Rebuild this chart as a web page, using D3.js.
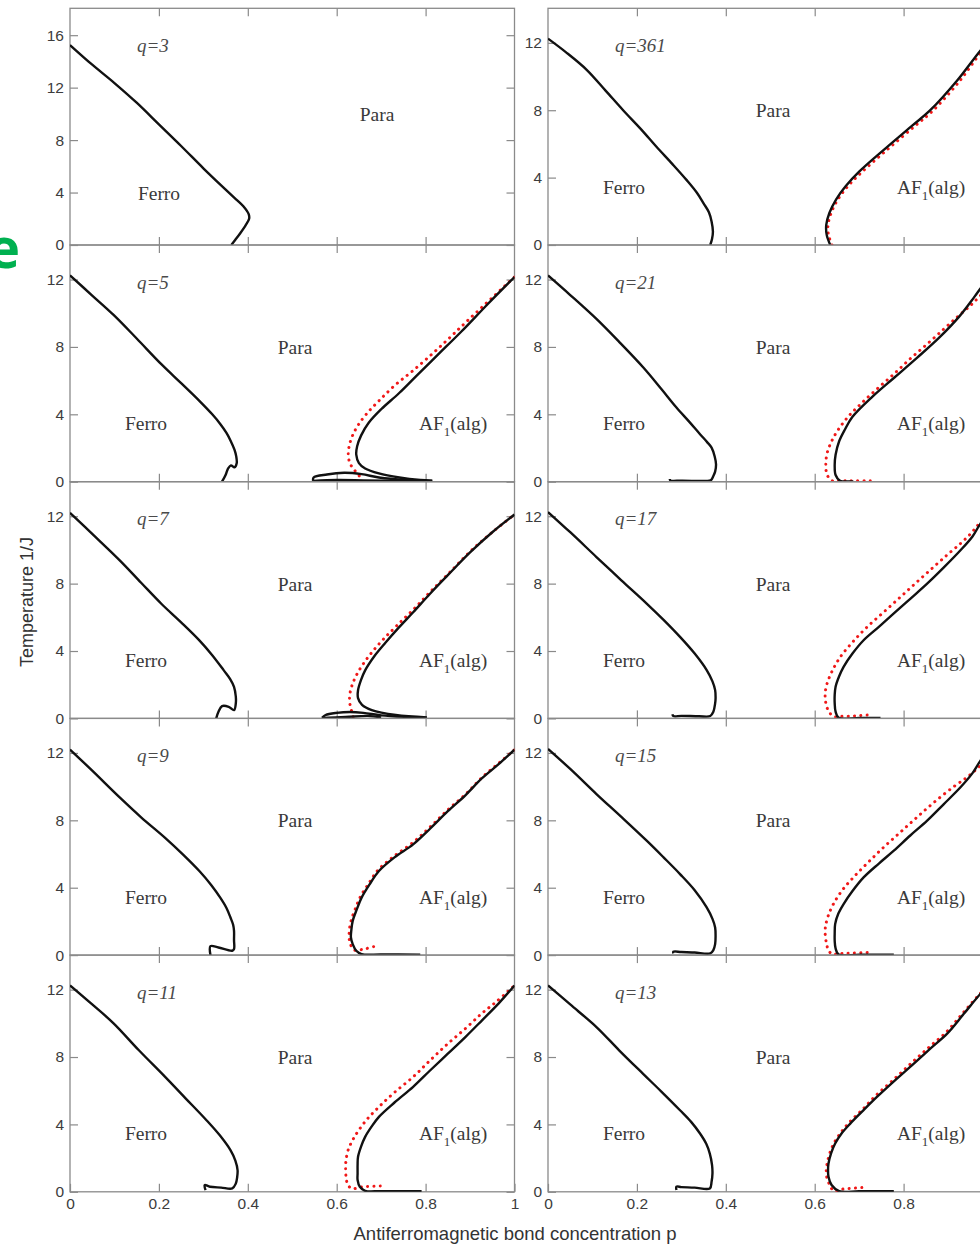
<!DOCTYPE html>
<html>
<head>
<meta charset="utf-8">
<script src="https://cdn.jsdelivr.net/npm/d3@7"></script>
<style>
  body { margin: 0; background: #fff; }
  svg { display: block; }
</style>
</head>
<body>
<svg id="chart" width="980" height="1246"></svg>
<script>
// ---- axis settings ----
const pTicks = [0, 0.2, 0.4, 0.6, 0.8, 1];
const pTickLabels = ["0", "0.2", "0.4", "0.6", "0.8", "1"];
const tTicks = [0, 4, 8, 12];
const tTicksQ3 = [0, 4, 8, 12, 16];
const tMax = 14.05;
const tMaxQ3 = 18.05;
const qLabels = ["q=3", "q=361", "q=5", "q=21", "q=7", "q=17", "q=9", "q=15", "q=11", "q=13"];

// ---- phase boundaries, points are [p, T] ----
// q = 3
const ferro_q3 = [[0,15.25],[0.05,13.75],[0.1,12.35],[0.15,10.85],[0.2,9.2],[0.25,7.55],[0.3,5.85],[0.34,4.55],[0.37,3.6],[0.39,2.95],[0.402,2.35],[0.403,2.0],[0.395,1.5],[0.383,0.9],[0.372,0.4],[0.363,0]];

// q = 361
const ferro_q361 = [[0,12.25],[0.04,11.45],[0.087,10.4],[0.13,9.15],[0.169,8.0],[0.21,6.85],[0.244,5.83],[0.28,4.8],[0.312,3.85],[0.335,3.1],[0.35,2.47],[0.362,1.95],[0.368,1.4],[0.371,0.8],[0.369,0.35],[0.365,0]];
const af_q361 = [[0.635,0],[0.627,0.6],[0.626,1.2],[0.633,1.9],[0.648,2.7],[0.67,3.5],[0.7,4.35],[0.76,5.75],[0.82,7.1],[0.86,8.0],[0.92,9.75],[0.973,11.55],[1,12.35]];
const alg_q361 = [[0.639,0],[0.631,0.6],[0.63,1.2],[0.637,1.9],[0.652,2.7],[0.675,3.5],[0.705,4.3],[0.765,5.7],[0.825,7.05],[0.865,7.95],[0.925,9.7],[0.976,11.5],[1,12.2]];

// q = 5
const ferro_q5 = [[0,12.25],[0.05,11.05],[0.098,9.9],[0.15,8.5],[0.206,6.96],[0.25,5.85],[0.291,4.8],[0.32,4.0],[0.338,3.43],[0.352,2.9],[0.361,2.45],[0.37,1.9],[0.374,1.5],[0.375,1.1],[0.37,0.85],[0.362,0.97],[0.355,0.75],[0.35,0.4],[0.342,0]];
const af_q5 = [[0.815,0.06],[0.788,0.1],[0.741,0.25],[0.695,0.49],[0.664,0.78],[0.65,1.1],[0.644,1.6],[0.646,2.1],[0.655,2.75],[0.672,3.5],[0.7,4.3],[0.74,5.25],[0.78,6.3],[0.83,7.6],[0.88,8.9],[0.94,10.55],[1,12.15]];
const alg_q5 = [[0.655,0],[0.652,0.29],[0.64,0.69],[0.63,1.08],[0.626,1.6],[0.628,2.1],[0.635,2.7],[0.648,3.35],[0.668,4.05],[0.695,4.8],[0.73,5.7],[0.772,6.6],[0.83,7.95],[0.9,9.7],[1,12.15]];
const lowA_q5 = [[0.547,0.05],[0.548,0.25],[0.578,0.43],[0.617,0.53],[0.656,0.45],[0.695,0.25],[0.757,0.1],[0.815,0.05]];
const lowB_q5 = [[0.547,0.05],[0.6,0.1],[0.66,0.08],[0.73,0.05],[0.8,0.03]];

// q = 21
const ferro_q21 = [[0,12.24],[0.05,11.08],[0.109,9.66],[0.16,8.3],[0.214,6.79],[0.255,5.5],[0.289,4.4],[0.318,3.55],[0.342,2.82],[0.358,2.35],[0.368,2.02],[0.375,1.5],[0.378,1.03],[0.376,0.6],[0.372,0.34],[0.366,0.08],[0.35,0.05],[0.3,0.06],[0.275,0.08],[0.274,0.16]];
const af_q21 = [[0.687,0.02],[0.665,0.02],[0.657,0.05],[0.647,0.4],[0.645,1.0],[0.647,1.6],[0.655,2.4],[0.668,3.1],[0.685,3.85],[0.73,5.05],[0.78,6.2],[0.83,7.35],[0.88,8.55],[0.925,9.8],[0.96,11.0],[0.985,11.9],[1,12.4]];
const alg_q21 = [[0.725,0.05],[0.68,0.05],[0.65,0.05],[0.639,0.06],[0.628,0.4],[0.625,1.0],[0.628,1.7],[0.638,2.4],[0.652,3.05],[0.675,3.85],[0.703,4.6],[0.74,5.5],[0.778,6.39],[0.815,7.3],[0.853,8.17],[0.89,9.05],[0.92,9.76],[0.95,10.45],[0.973,11.05],[1,11.8]];

// q = 7
const ferro_q7 = [[0,12.2],[0.05,10.95],[0.113,9.35],[0.16,8.05],[0.206,6.79],[0.25,5.7],[0.291,4.63],[0.32,3.75],[0.346,2.85],[0.36,2.35],[0.369,1.87],[0.373,1.3],[0.373,0.89],[0.369,0.49],[0.357,0.69],[0.342,0.73],[0.334,0.39],[0.329,0]];
const af_q7 = [[0.803,0.06],[0.733,0.2],[0.679,0.49],[0.657,0.8],[0.648,1.2],[0.648,1.67],[0.655,2.3],[0.664,2.85],[0.685,3.7],[0.71,4.5],[0.74,5.4],[0.772,6.3],[0.81,7.4],[0.85,8.5],[0.9,9.85],[0.95,11.05],[1,12.1]];
const alg_q7 = [[0.637,0.1],[0.633,0.49],[0.629,1.0],[0.63,1.5],[0.635,2.0],[0.645,2.6],[0.66,3.25],[0.68,3.95],[0.705,4.7],[0.735,5.5],[0.772,6.45],[0.81,7.5],[0.85,8.55],[0.9,9.9],[0.95,11.05],[1,12.1]];
const lowA_q7 = [[0.567,0.03],[0.575,0.2],[0.6,0.33],[0.63,0.38],[0.66,0.33],[0.7,0.18],[0.76,0.08],[0.8,0.04]];
const lowB_q7 = [[0.567,0.03],[0.62,0.08],[0.67,0.15],[0.7,0.06]];

// q = 17
const ferro_q17 = [[0,12.25],[0.05,11.05],[0.109,9.58],[0.165,8.2],[0.222,6.82],[0.26,5.85],[0.297,4.84],[0.33,3.85],[0.357,2.87],[0.37,2.2],[0.376,1.68],[0.377,1.2],[0.376,0.89],[0.372,0.4],[0.365,0.14],[0.34,0.13],[0.3,0.15],[0.282,0.14],[0.28,0.25]];
const af_q17 = [[0.748,0.03],[0.7,0.03],[0.654,0.03],[0.647,0.4],[0.645,0.89],[0.645,1.4],[0.647,1.88],[0.655,2.5],[0.665,3.06],[0.685,3.85],[0.71,4.64],[0.745,5.45],[0.778,6.23],[0.815,7.1],[0.853,8.0],[0.89,8.95],[0.928,9.98],[0.955,10.8],[0.973,11.56],[1,12.4]];
const alg_q17 = [[0.718,0.2],[0.69,0.15],[0.66,0.12],[0.643,0.1],[0.63,0.5],[0.624,1.09],[0.624,1.6],[0.628,2.08],[0.64,2.85],[0.658,3.66],[0.686,4.55],[0.718,5.43],[0.755,6.3],[0.793,7.21],[0.83,8.1],[0.868,9.0],[0.9,9.75],[0.928,10.38],[0.952,11.0],[0.973,11.66],[1,12.4]];

// q = 9
const ferro_q9 = [[0,12.2],[0.05,10.95],[0.113,9.33],[0.16,8.18],[0.214,6.96],[0.255,5.95],[0.291,4.99],[0.318,4.15],[0.338,3.41],[0.352,2.8],[0.361,2.23],[0.367,1.8],[0.369,1.44],[0.369,0.9],[0.369,0.36],[0.365,0.26],[0.334,0.45],[0.316,0.53],[0.316,0]];
const af_q9 = [[0.788,0.03],[0.7,0.04],[0.656,0.06],[0.644,0.26],[0.636,0.65],[0.632,1.05],[0.633,1.5],[0.636,2.03],[0.645,2.7],[0.656,3.41],[0.674,4.2],[0.695,4.99],[0.73,5.8],[0.772,6.57],[0.81,7.5],[0.85,8.54],[0.89,9.5],[0.927,10.5],[0.965,11.35],[1,12.19]];
const alg_q9 = [[0.683,0.5],[0.66,0.35],[0.64,0.3],[0.63,0.7],[0.628,1.1],[0.629,1.6],[0.633,2.1],[0.642,2.75],[0.653,3.45],[0.672,4.25],[0.693,5.05],[0.728,5.85],[0.77,6.65],[0.81,7.6],[0.85,8.62],[0.89,9.55],[0.927,10.55],[0.965,11.4],[1,12.19]];

// q = 15
const ferro_q15 = [[0,12.24],[0.05,11.05],[0.109,9.56],[0.165,8.2],[0.222,6.79],[0.26,5.8],[0.297,4.81],[0.33,3.85],[0.357,2.83],[0.37,2.15],[0.376,1.64],[0.377,1.1],[0.376,0.65],[0.372,0.3],[0.365,0.1],[0.33,0.15],[0.3,0.18],[0.282,0.2],[0.282,0.1]];
const af_q15 = [[0.778,0.03],[0.7,0.03],[0.654,0.03],[0.647,0.4],[0.645,0.85],[0.645,1.3],[0.646,1.84],[0.653,2.45],[0.665,3.03],[0.685,3.8],[0.71,4.61],[0.745,5.45],[0.778,6.2],[0.815,7.1],[0.853,7.98],[0.89,8.95],[0.928,9.96],[0.955,10.8],[0.973,11.54],[1,12.4]];
const alg_q15 = [[0.718,0.16],[0.685,0.12],[0.66,0.1],[0.639,0.06],[0.63,0.35],[0.627,0.65],[0.624,1.1],[0.624,1.64],[0.63,2.3],[0.642,3.03],[0.662,3.85],[0.687,4.61],[0.72,5.5],[0.755,6.4],[0.793,7.3],[0.83,8.18],[0.87,9.1],[0.913,10.0],[0.945,10.6],[0.973,11.25],[1,11.95]];

// q = 11
const ferro_q11 = [[0,12.25],[0.05,11.12],[0.098,10.0],[0.155,8.4],[0.214,6.82],[0.26,5.55],[0.307,4.25],[0.337,3.35],[0.361,2.47],[0.372,1.85],[0.377,1.28],[0.376,0.85],[0.373,0.49],[0.365,0.2],[0.34,0.25],[0.315,0.3],[0.303,0.4],[0.305,0.1]];
const af_q11 = [[0.791,0.03],[0.7,0.04],[0.664,0.06],[0.652,0.3],[0.647,0.7],[0.647,1.09],[0.647,1.6],[0.648,2.08],[0.655,2.7],[0.664,3.26],[0.678,3.85],[0.695,4.45],[0.73,5.3],[0.772,6.23],[0.81,7.2],[0.85,8.2],[0.89,9.2],[0.927,10.18],[0.965,11.2],[1,12.25]];
const alg_q11 = [[0.698,0.34],[0.66,0.3],[0.633,0.2],[0.624,0.5],[0.621,0.9],[0.62,1.4],[0.621,1.88],[0.626,2.5],[0.64,3.26],[0.665,4.2],[0.695,5.04],[0.73,5.9],[0.772,6.82],[0.81,7.8],[0.85,8.79],[0.89,9.7],[0.927,10.6],[0.96,11.3],[1,12.25]];

// q = 13
const ferro_q13 = [[0,12.25],[0.05,11.12],[0.109,9.78],[0.16,8.4],[0.214,7.0],[0.255,5.95],[0.297,4.84],[0.322,4.15],[0.342,3.46],[0.356,2.85],[0.364,2.27],[0.369,1.6],[0.37,1.09],[0.368,0.6],[0.364,0.2],[0.33,0.25],[0.3,0.28],[0.289,0.3],[0.289,0.1]];
const af_q13 = [[0.778,0.03],[0.7,0.03],[0.655,0.04],[0.638,0.4],[0.631,0.89],[0.63,1.3],[0.631,1.68],[0.637,2.3],[0.646,2.87],[0.66,3.45],[0.68,4.05],[0.71,4.85],[0.74,5.63],[0.78,6.6],[0.823,7.61],[0.86,8.5],[0.898,9.39],[0.935,10.55],[0.973,11.76],[1,12.5]];
const alg_q13 = [[0.706,0.25],[0.68,0.2],[0.66,0.15],[0.643,0.05],[0.633,0.45],[0.627,0.89],[0.626,1.3],[0.628,1.68],[0.634,2.3],[0.643,2.87],[0.657,3.45],[0.677,4.1],[0.708,4.9],[0.737,5.7],[0.777,6.65],[0.82,7.7],[0.858,8.6],[0.895,9.45],[0.933,10.6],[0.97,11.7],[1,12.5]];

// ---- panel table (row, column) ----
const panels = [
  { q: qLabels[0], row: 0, col: 0, top: tMaxQ3, ticks: tTicksQ3, ferro: ferro_q3, af: null, alg: null, low: [] },
  { q: qLabels[1], row: 0, col: 1, top: tMax, ticks: tTicks, ferro: ferro_q361, af: af_q361, alg: alg_q361, low: [] },
  { q: qLabels[2], row: 1, col: 0, top: tMax, ticks: tTicks, ferro: ferro_q5, af: af_q5, alg: alg_q5, low: [lowA_q5, lowB_q5] },
  { q: qLabels[3], row: 1, col: 1, top: tMax, ticks: tTicks, ferro: ferro_q21, af: af_q21, alg: alg_q21, low: [] },
  { q: qLabels[4], row: 2, col: 0, top: tMax, ticks: tTicks, ferro: ferro_q7, af: af_q7, alg: alg_q7, low: [lowA_q7, lowB_q7] },
  { q: qLabels[5], row: 2, col: 1, top: tMax, ticks: tTicks, ferro: ferro_q17, af: af_q17, alg: alg_q17, low: [] },
  { q: qLabels[6], row: 3, col: 0, top: tMax, ticks: tTicks, ferro: ferro_q9, af: af_q9, alg: alg_q9, low: [] },
  { q: qLabels[7], row: 3, col: 1, top: tMax, ticks: tTicks, ferro: ferro_q15, af: af_q15, alg: alg_q15, low: [] },
  { q: qLabels[8], row: 4, col: 0, top: tMax, ticks: tTicks, ferro: ferro_q11, af: af_q11, alg: alg_q11, low: [] },
  { q: qLabels[9], row: 4, col: 1, top: tMax, ticks: tTicks, ferro: ferro_q13, af: af_q13, alg: alg_q13, low: [] }
];

// ---- layout ----
const colLeft = [70, 548];
const panelW = 444.5;
const rowTop0 = 8.3;
const panelH = 236.7;
const frameColor = "#8a8a8a";
const tickColor = "#3c3c3c";
const sans = "'Liberation Sans', Arial, Helvetica, sans-serif";
const serif = "'Liberation Serif', 'Times New Roman', Times, serif";

const svg = d3.select("#chart");

// partial caption letter at the left margin
svg.append("text")
  .attr("x", 20).attr("y", 268)
  .attr("text-anchor", "end")
  .attr("font-family", "'Open Sans', 'Noto Sans', sans-serif")
  .attr("font-weight", 700)
  .attr("font-size", 56)
  .attr("fill", "#00b050")
  .text("e");

const defs = svg.append("defs");

panels.forEach((pn, i) => {
  const x0 = colLeft[pn.col];
  const y0 = rowTop0 + pn.row * panelH;
  const g = svg.append("g").attr("transform", `translate(${x0},${y0})`);

  const x = d3.scaleLinear().domain([0, 1]).range([0, panelW]);
  const y = d3.scaleLinear().domain([0, pn.top]).range([panelH, 0]);

  const clipId = "clip" + i;
  defs.append("clipPath").attr("id", clipId)
    .append("rect").attr("x", 0).attr("y", 0).attr("width", panelW).attr("height", panelH);

  // inward ticks on all four sides
  const styleAxis = sel => {
    sel.select(".domain").remove();
    sel.selectAll(".tick line").attr("stroke", frameColor).attr("stroke-width", 1.2);
    sel.selectAll(".tick text")
      .attr("fill", tickColor)
      .attr("font-family", sans)
      .attr("font-size", 15.5);
  };

  g.append("g")
    .call(d3.axisLeft(y).tickValues(pn.ticks).tickSize(-8).tickSizeOuter(0).tickPadding(6))
    .call(styleAxis);
  g.append("g").attr("transform", `translate(${panelW},0)`)
    .call(d3.axisRight(y).tickValues(pn.ticks).tickSize(-8).tickSizeOuter(0).tickFormat(""))
    .call(styleAxis);
  g.append("g")
    .call(d3.axisTop(x).tickValues(pTicks.slice(1, -1)).tickSize(-8).tickSizeOuter(0).tickFormat(""))
    .call(styleAxis);
  const isBottom = pn.row === 4;
  // the right column's last label falls beyond the page edge
  const bottomVals = isBottom ? (pn.col === 0 ? pTicks : pTicks.slice(0, -1)) : pTicks.slice(1, -1);
  g.append("g").attr("transform", `translate(0,${panelH})`)
    .call(d3.axisBottom(x).tickValues(bottomVals)
      .tickSize(-8).tickSizeOuter(0).tickPadding(6)
      .tickFormat(isBottom ? d => pTickLabels[pTicks.indexOf(d)] : ""))
    .call(styleAxis);

  // frame
  g.append("rect")
    .attr("x", 0).attr("y", 0).attr("width", panelW).attr("height", panelH)
    .attr("fill", "none").attr("stroke", frameColor).attr("stroke-width", 1.3);

  const line = d3.line()
    .x(d => x(d[0])).y(d => y(d[1]))
    .curve(d3.curveCatmullRom.alpha(0.5));

  const plot = g.append("g").attr("clip-path", `url(#${clipId})`);

  if (pn.alg) {
    plot.append("path").datum(pn.alg)
      .attr("d", line)
      .attr("fill", "none")
      .attr("stroke", "#f01818")
      .attr("stroke-width", 3)
      .attr("stroke-linecap", "round")
      .attr("stroke-dasharray", "0.1 6.2");
  }
  const solid = [pn.ferro].concat(pn.af ? [pn.af] : [], pn.low);
  plot.selectAll("path.solid").data(solid).enter().append("path")
    .attr("class", "solid")
    .attr("d", line)
    .attr("fill", "none")
    .attr("stroke", "#111")
    .attr("stroke-width", 2.4)
    .attr("stroke-linejoin", "round");

  // region labels
  const labels = g.append("g")
    .attr("font-family", serif)
    .attr("font-size", 19.5)
    .attr("fill", "#3a3a3a");

  const first = pn.row === 0 && pn.col === 0;
  const paraX = first ? 307 : 225;
  const ferroX = first ? 89 : 76;
  const paraY = first ? 106 : 102;
  const ferroY = first ? 185 : 178.5;

  labels.append("text").attr("x", paraX).attr("y", paraY).attr("dy", "0.35em")
    .attr("text-anchor", "middle").text("Para");
  labels.append("text").attr("x", ferroX).attr("y", ferroY).attr("dy", "0.35em")
    .attr("text-anchor", "middle").text("Ferro");
  if (pn.af) {
    const t = labels.append("text").attr("x", 383).attr("y", 178.5).attr("dy", "0.35em")
      .attr("text-anchor", "middle");
    t.append("tspan").text("AF");
    t.append("tspan").attr("font-size", 13).attr("dy", 6).text("1");
    t.append("tspan").attr("dy", -6).text("(alg)");
  }

  g.append("text")
    .attr("x", 67).attr("y", 37).attr("dy", "0.35em")
    .attr("font-family", serif)
    .attr("font-style", "italic")
    .attr("font-size", 19)
    .attr("fill", "#4a4a4a")
    .text(pn.q);
});

// axis titles
svg.append("text")
  .attr("transform", "translate(27,602) rotate(-90)")
  .attr("text-anchor", "middle")
  .attr("dy", "0.35em")
  .attr("font-family", sans)
  .attr("font-size", 18)
  .attr("fill", "#333")
  .text("Temperature 1/J");

svg.append("text")
  .attr("x", 515).attr("y", 1234)
  .attr("text-anchor", "middle")
  .attr("dy", "0.35em")
  .attr("font-family", sans)
  .attr("font-size", 18.5)
  .attr("fill", "#333")
  .text("Antiferromagnetic bond concentration p");
</script>
</body>
</html>
